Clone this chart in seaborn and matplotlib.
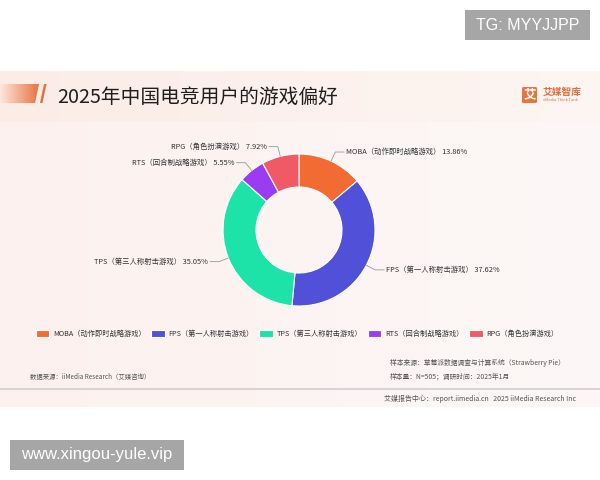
import numpy as np
import matplotlib
matplotlib.use("Agg")
import matplotlib.pyplot as plt
import seaborn as sns
from matplotlib.patches import Rectangle, Polygon, FancyBboxPatch
from matplotlib.colors import LinearSegmentedColormap

title = "2025年中国电竞用户的游戏偏好"
games = ["MOBA（动作即时战略游戏）", "FPS（第一人称射击游戏）", "TPS（第三人称射击游戏）",
         "RTS（回合制战略游戏）", "RPG（角色扮演游戏）"]
shares = [13.86, 37.62, 35.05, 5.55, 7.92]
colors = ["#f26b32", "#5050d9", "#1ee3a8", "#9b3cf2", "#f05a66"]
source_left = "数据来源：iiMedia Research（艾媒咨询）"
source_right = ["样本来源：草莓派数据调查与计算系统（Strawberry Pie）",
                "样本量：N=505；调研时间：2025年1月"]
footer = "艾媒报告中心：report.iimedia.cn   2025 iiMedia Research Inc"

sns.set_theme(style="white")
plt.rcParams['font.family'] = ['Noto Sans CJK SC', 'DejaVu Sans']

fig = plt.figure(figsize=(6, 4.8), dpi=100)
ax = fig.add_axes([0, 0, 1, 1])


def Y(py):
    # pixel row (from top) -> data y
    return 480 - py


# panel background
grad = np.linspace(0, 1, 256).reshape(1, -1)
panel_cmap = LinearSegmentedColormap.from_list("panel", ["#fcf1ee", "#fdf8f7"])
ax.imshow(grad, extent=[0, 600, Y(407), Y(71)], cmap=panel_cmap, aspect='auto', zorder=0)
band_cmap = LinearSegmentedColormap.from_list("band", ["#fbece6", "#fdf6f3"])
ax.imshow(grad, extent=[0, 600, Y(122), Y(71)], cmap=band_cmap, aspect='auto', zorder=0)

# title decoration
bar = Polygon([(0, Y(84)), (39, Y(84)), (35, Y(103)), (0, Y(103))], closed=True,
              facecolor='none', edgecolor='none')
ax.add_patch(bar)
bar_cmap = LinearSegmentedColormap.from_list("bar", ["#fde8dd", "#e9703c"])
im = ax.imshow(grad, extent=[0, 40, Y(103), Y(84)], cmap=bar_cmap, aspect='auto', zorder=1)
im.set_clip_path(bar)
ax.add_patch(Polygon([(44, Y(84)), (46.5, Y(84)), (42.5, Y(103)), (40, Y(103))],
                     closed=True, facecolor="#e9703c", edgecolor='none'))
ax.text(57, Y(97), title, fontsize=14.2, color="#1f1f1f", ha='left', va='center')

# logo
ax.add_patch(FancyBboxPatch((522, Y(103)), 15, 16, boxstyle="round,pad=0,rounding_size=1.5",
                            facecolor="#e8743f", edgecolor='none'))
ax.text(529.5, Y(95), "艾", fontsize=9, color='white', fontweight='bold', ha='center', va='center')
ax.text(543, Y(91.5), "艾媒智库", fontsize=7, color="#e07040", fontweight='bold', ha='left', va='center')
ax.text(543, Y(100), "iiMedia Think Tank", fontsize=2.8, color="#e07040", ha='left', va='center')

# donut
cx, cy, r = 299, Y(230), 76
wedges, _ = ax.pie(shares, colors=colors, startangle=90, counterclock=False,
                   center=(cx, cy), radius=r, frame=True,
                   wedgeprops=dict(width=33, edgecolor='white', linewidth=0.8))

# labels with leader lines
start = 0.0
total = sum(shares)
for game, share in zip(games, shares):
    mid = start + share / 2
    start += share
    ang = np.deg2rad(90 - mid / total * 360)
    dx, dy = np.cos(ang), np.sin(ang)
    p0 = (cx + r * dx, cy + r * dy)
    p1 = (p0[0] + 10 * dx, p0[1] + 10 * dy)
    side = 1 if dx >= 0 else -1
    p2 = (p1[0] + 9 * side, p1[1])
    ax.plot([p0[0], p1[0], p2[0]], [p0[1], p1[1], p2[1]], color="#9a9a9a", lw=0.6)
    ax.text(p2[0] + 2 * side, p2[1], f"{game} {share:.2f}%", fontsize=5.3, color="#333333",
            ha='left' if side > 0 else 'right', va='center')

# legend
fig.legend(wedges, games, ncol=5, loc='center', bbox_to_anchor=(297 / 600, Y(334) / 480),
           frameon=False, fontsize=5.2, handlelength=1.9, handleheight=1.1,
           handletextpad=0.5, columnspacing=0.75, labelcolor="#333333")

# sources and footer
ax.text(30, Y(377), source_left, fontsize=4.6, color="#555555", ha='left', va='center')
ax.text(390, Y(363), source_right[0], fontsize=4.9, color="#555555", ha='left', va='center')
ax.text(390, Y(377), source_right[1], fontsize=4.9, color="#555555", ha='left', va='center')
ax.plot([0, 600], [Y(389), Y(389)], color="#cfcfcf", lw=1.2)
ax.text(384, Y(399), footer, fontsize=5.0, color="#555555", ha='left', va='center')

# watermark boxes
ax.add_patch(Rectangle((465, Y(40)), 125, 30, facecolor="#a6a6a6", edgecolor='none'))
ax.text(527.5, Y(25), "TG: MYYJJPP", fontsize=11.5, color='white', ha='center', va='center',
        family="Liberation Sans")
ax.add_patch(Rectangle((10, Y(470)), 174, 30, facecolor="#a6a6a6", edgecolor='none'))
ax.text(97, Y(455), "www.xingou-yule.vip", fontsize=12, color='white', ha='center', va='center',
        family="Liberation Sans")

ax.set_xlim(0, 600)
ax.set_ylim(0, 480)
ax.axis('off')

fig.savefig("out.png", dpi=100)
